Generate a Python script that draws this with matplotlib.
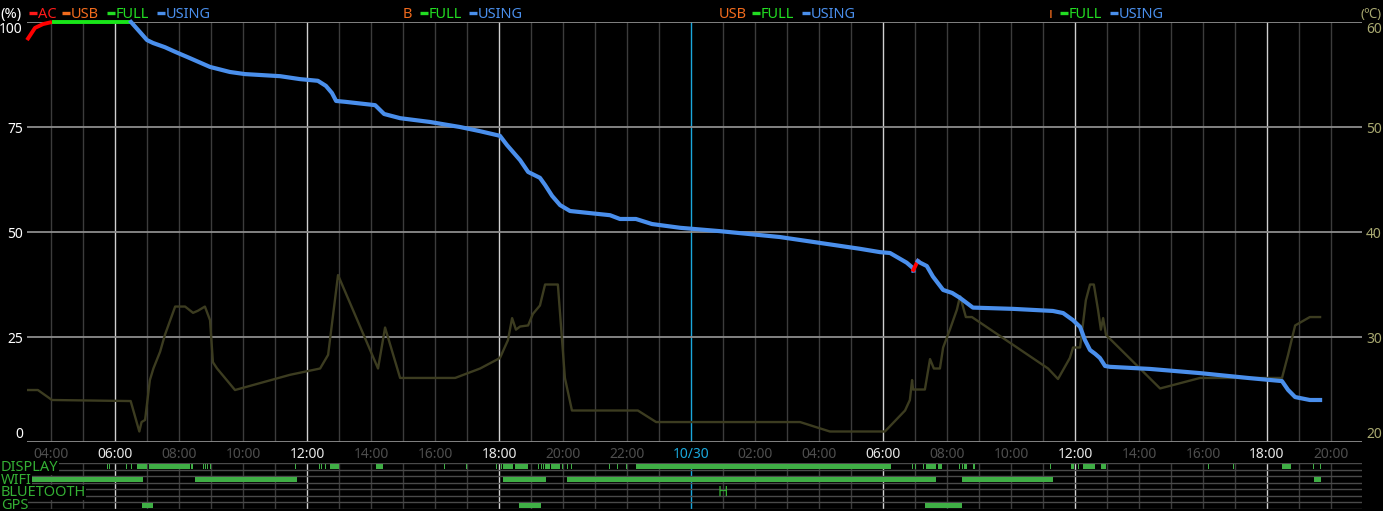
import matplotlib.pyplot as plt
from matplotlib.lines import Line2D

plt.rcParams['font.family'] = ['Noto Sans', 'DejaVu Sans']

W, H = 1383, 511

# -----------------------------
# Data (hours counted from 00:00 on 10/29)
# -----------------------------
ac_h = [3.25, 3.5, 3.75, 4.03]
ac_pct = [95.7, 98.6, 99.5, 100.0]

full_h = [4.03, 6.5]
full_pct = [100.0, 100.0]

using1_h = [6.5, 6.78, 7.0, 7.19, 7.56, 7.88, 8.34, 8.97, 9.59, 10.06, 11.16, 11.78,
            12.34, 12.59, 12.78, 12.91, 13.19, 14.13, 14.41, 14.91, 15.84, 16.78,
            17.41, 18.03, 18.25, 18.66, 18.91, 19.28, 19.44, 19.66, 19.91, 20.22,
            20.84, 21.47, 21.78, 22.28, 22.78, 23.66, 24.91, 25.84, 26.78, 28.03,
            29.28, 29.91, 30.22, 30.74, 30.94, 30.95]
using1_pct = [100.0, 97.6, 95.7, 95.0, 94.0, 92.9, 91.4, 89.3, 88.1, 87.6, 87.1, 86.4,
              86.0, 84.8, 83.1, 81.2, 81.0, 80.2, 78.1, 77.1, 76.2, 75.0,
              74.0, 72.9, 70.7, 67.1, 64.3, 62.9, 61.2, 58.6, 56.4, 55.0,
              54.5, 54.0, 53.1, 53.1, 51.9, 51.0, 50.2, 49.5, 48.8, 47.4,
              46.0, 45.2, 45.0, 42.7, 41.4, 40.8]

ac2_h = [30.95, 31.09]
ac2_pct = [41.0, 43.1]

using2_h = [31.09, 31.16, 31.37, 31.56, 31.88, 32.16, 32.41, 32.81, 34.06, 35.31,
            35.63, 35.94, 36.16, 36.31, 36.47, 36.63, 36.78, 36.94, 37.09, 38.34,
            39.91, 41.47, 42.47, 42.66, 42.88, 43.34, 43.66]
using2_pct = [43.1, 42.7, 41.9, 39.4, 36.2, 35.5, 34.3, 32.0, 31.7, 31.2,
              30.7, 29.0, 27.4, 24.3, 21.9, 21.0, 20.0, 18.1, 17.9, 17.4,
              16.4, 15.2, 14.5, 12.4, 10.7, 10.0, 10.0]

temp_h = [3.25, 3.59, 4.03, 6.49, 6.76, 6.83, 6.94, 7.09, 7.2, 7.41, 7.56, 7.88,
          8.19, 8.44, 8.59, 8.81, 8.97, 9.06, 9.19, 9.75, 11.47, 12.41, 12.66,
          12.97, 14.22, 14.44, 14.91, 16.63, 17.41, 18.03, 18.28, 18.41, 18.53,
          18.66, 18.91, 19.06, 19.28, 19.44, 19.84, 20.06, 20.28, 22.34, 22.91,
          27.41, 28.34, 30.06, 30.69, 30.84, 30.91, 30.94, 31.31, 31.47, 31.59,
          31.78, 31.88, 32.09, 32.31, 32.41, 32.59, 32.78, 35.16, 35.47, 35.84,
          35.94, 36.16, 36.34, 36.47, 36.59, 36.72, 36.81, 36.88, 36.97, 38.66,
          39.91, 42.47, 42.66, 42.88, 43.34, 43.66]
temp_c = [24.95, 24.95, 24.0, 23.9, 21.0, 21.9, 22.1, 25.9, 27.0, 28.6, 30.2, 32.9,
          32.9, 32.3, 32.5, 32.9, 31.6, 27.6, 27.0, 24.95, 26.4, 27.0, 28.3,
          35.9, 27.0, 30.9, 26.1, 26.1, 27.0, 28.0, 29.7, 31.8, 30.7,
          31.0, 31.1, 32.2, 33.0, 35.0, 35.0, 26.1, 23.0, 23.0, 21.9,
          21.9, 21.0, 21.0, 23.0, 24.0, 25.9, 25.0, 25.0, 27.9, 27.0,
          27.0, 29.0, 30.7, 32.6, 33.9, 31.9, 31.9, 27.0, 26.0, 28.0,
          29.0, 29.0, 33.5, 35.0, 35.0, 32.6, 30.7, 31.8, 30.2, 25.1,
          26.1, 26.1, 28.3, 31.1, 31.9, 31.9]

# status rows: (start hour, duration)
display_on = [(5.75, 0.04), (5.81, 0.04), (6.34, 0.04), (6.5, 0.04), (6.69, 0.04),
              (6.72, 0.28), (7.06, 1.28), (8.38, 0.04), (8.41, 0.04), (8.75, 0.04),
              (8.81, 0.04), (8.88, 0.04), (8.97, 0.04), (11.63, 0.04), (12.38, 0.04),
              (12.44, 0.04), (12.56, 0.04), (12.72, 0.28), (14.16, 0.22), (16.28, 0.04),
              (16.97, 0.04), (17.91, 0.04), (18.05, 0.04), (18.13, 0.31), (18.5, 0.41),
              (19.22, 0.04), (19.31, 0.04), (19.38, 0.04), (19.44, 0.16), (19.63, 0.28),
              (19.97, 0.04), (20.13, 0.04), (20.25, 0.04), (21.44, 0.04), (21.69, 0.04),
              (21.97, 0.04), (22.28, 7.97), (30.91, 0.04), (31.0, 0.04), (31.25, 0.04),
              (31.34, 0.31), (31.72, 0.13), (32.38, 0.04), (32.47, 0.04), (32.53, 0.09),
              (32.81, 0.04), (32.84, 0.04), (35.22, 0.04), (35.88, 0.09), (36.09, 0.04),
              (36.25, 0.38), (36.81, 0.16), (40.16, 0.04), (40.94, 0.04), (42.47, 0.28),
              (43.44, 0.04), (43.66, 0.04)]
wifi_on = [(3.41, 3.47), (8.5, 3.19), (18.13, 1.34), (20.13, 11.53), (32.47, 2.84),
           (43.47, 0.22)]
bluetooth_mark = 25.0
gps_on = [(6.84, 0.34), (18.63, 0.69), (31.31, 1.16)]

status_names = ['DISPLAY', 'WIFI', 'BLUETOOTH', 'GPS']

tick_hours = list(range(4, 45, 2))
tick_labels = ['10/30' if h == 24 else '%02d:00' % (h % 24) for h in tick_hours]

pct_ticks = [0, 25, 50, 75, 100]
temp_ticks = [20, 30, 40, 50, 60]

# -----------------------------
# Colours
# -----------------------------
C_AC = '#ff1a1a'
C_USB = '#f26b1d'
C_FULL = '#22dd22'
C_USING = '#4a8fec'
C_TEMP = '#3c3c20'
C_STAT = '#3fae45'
C_STAT_TXT = '#34b034'
C_TEMP_TXT = '#a8a870'
C_CYAN = '#1aa8dc'


def hour_color(h):
    if h % 24 == 0:
        return C_CYAN
    if h % 6 == 0:
        return '#d0d0d0'
    return '#3c3c3c'


xlim = (3.25, 44.97)

fig = plt.figure(figsize=(W / 100, H / 100), dpi=100, facecolor='black')

# -----------------------------
# Main chart
# -----------------------------
ax = fig.add_axes([27 / W, (H - 442) / H, 1335 / W, 420 / H])
ax2 = ax.twinx()
ax.set_zorder(2)
ax2.set_zorder(1)
ax.patch.set_visible(False)

for h in range(4, 45):
    ax2.axvline(h, color=hour_color(h), lw=1.0, zorder=0)
for t in temp_ticks:
    ax2.axhline(t, color='#8c8c8c', lw=1.3, zorder=0)

ax2.plot(temp_h, temp_c, color=C_TEMP, lw=1.7, zorder=2)

ax.plot(ac_h, ac_pct, color='#ff0000', lw=2.8, solid_capstyle='butt', clip_on=False)
ax.plot(full_h, full_pct, color='#19e619', lw=2.8, solid_capstyle='butt', clip_on=False)
ax.plot(using1_h, using1_pct, color=C_USING, lw=3.0, clip_on=False)
ax.plot(ac2_h, ac2_pct, color='#ff0000', lw=2.8)
ax.plot(using2_h, using2_pct, color=C_USING, lw=3.0)

ax.set_xlim(*xlim)
ax.set_ylim(0, 100)
ax2.set_ylim(20, 60)

for a in (ax, ax2):
    for s in a.spines.values():
        s.set_visible(False)

ax.set_yticks(pct_ticks, [str(v) for v in pct_ticks])
ax.tick_params(axis='y', length=0, pad=3, labelcolor='white', labelsize=10)
ylabels = ax.get_yticklabels()
ylabels[0].set_va('bottom')
ylabels[-1].set_va('top')

ax2.set_yticks(temp_ticks, [str(v) for v in temp_ticks])
ax2.tick_params(axis='y', length=0, pad=3, labelcolor=C_TEMP_TXT, labelsize=10)
tlabels = ax2.get_yticklabels()
tlabels[0].set_va('bottom')
tlabels[-1].set_va('top')

ax.set_xticks(tick_hours, tick_labels)
ax.tick_params(axis='x', length=0, pad=3.5, labelsize=10)
for lbl, h in zip(ax.get_xticklabels(), tick_hours):
    if h % 24 == 0:
        lbl.set_color(C_CYAN)
    elif h % 6 == 0:
        lbl.set_color('#e8e8e8')
        lbl.set_fontweight('bold')
    else:
        lbl.set_color('#4e4e4e')

# -----------------------------
# Status rows
# -----------------------------
sx = fig.add_axes([27 / W, (H - 508.5) / H, 1335 / W, 45.2 / H])
sx.set_facecolor('black')
sx.set_xlim(*xlim)
sx.set_ylim(7, 0)
for h in range(4, 45):
    sx.axvline(h, color=hour_color(h), lw=1.0, zorder=0)
for r in range(8):
    sx.axhline(r, color='#4a4a4a', lw=1.0, zorder=0)
for i, spans in enumerate([display_on, wifi_on, [], gps_on]):
    if spans:
        sx.broken_barh(spans, (2 * i + 0.08, 0.84), facecolors=C_STAT, zorder=2)
sx.text(bluetooth_mark, 4.5, 'H', color=C_STAT_TXT, fontsize=10,
        ha='center', va='center', zorder=3)
sx.set_xticks([])
sx.set_yticks([])
for s in sx.spines.values():
    s.set_visible(False)

for i, name in enumerate(status_names):
    fig.text(1 / W, 1 - (471 + 12.7 * i) / H, name, color=C_STAT_TXT, fontsize=10.5,
             ha='left', va='baseline',
             bbox=dict(facecolor='black', edgecolor='none', pad=0))

# -----------------------------
# Header legends
# -----------------------------
def px(x, y):
    return x / W, 1 - y / H


def dash(x, color):
    x0, y0 = px(x, 13)
    x1, _ = px(x + 8, 13)
    fig.add_artist(Line2D([x0, x1], [y0, y0], color=color, lw=2.4,
                          transform=fig.transFigure, solid_capstyle='butt'))


def label(x, text, color):
    fx, fy = px(x, 18)
    fig.text(fx, fy, text, color=color, fontsize=10.5, ha='left', va='baseline')


fig.text(*px(0, 18), '(%)', color='white', fontsize=10.5, ha='left', va='baseline')
fig.text(*px(1382, 18), '(℃)', color=C_TEMP_TXT, fontsize=9.5, ha='right', va='baseline')

legend_rows = [
    [(29, 'AC', C_AC, True), (62, 'USB', C_USB, True),
     (107, 'FULL', C_FULL, True), (157, 'USING', C_USING, True)],
    [(394, 'B', C_USB, False), (420, 'FULL', C_FULL, True), (469, 'USING', C_USING, True)],
    [(710, 'USB', C_USB, False), (752, 'FULL', C_FULL, True), (802, 'USING', C_USING, True)],
    [(1040, 'ı', C_USB, False), (1060, 'FULL', C_FULL, True), (1110, 'USING', C_USING, True)],
]
for row in legend_rows:
    for x, text, color, has_dash in row:
        if has_dash:
            dash(x, color)
        label(x + 9, text, color)

fig.savefig('out.png', dpi=100, facecolor='black')
